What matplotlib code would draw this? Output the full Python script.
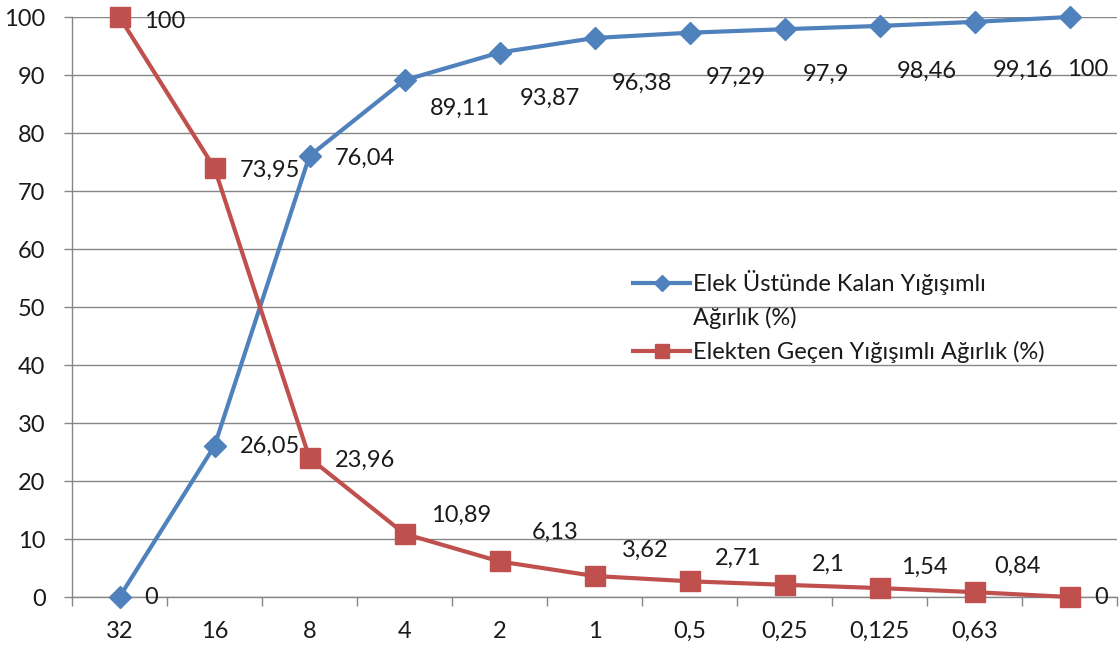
import matplotlib
matplotlib.use("Agg")
import matplotlib.pyplot as plt
from matplotlib.lines import Line2D

plt.rcParams['font.family'] = ['Lato', 'DejaVu Sans']

categories = ["32", "16", "8", "4", "2", "1", "0,5", "0,25", "0,125", "0,63", ""]
kalan = [0, 26.05, 76.04, 89.11, 93.87, 96.38, 97.29, 97.9, 98.46, 99.16, 100]
gecen = [100, 73.95, 23.96, 10.89, 6.13, 3.62, 2.71, 2.1, 1.54, 0.84, 0]
label_kalan = "Elek Üstünde Kalan Yığışımlı"
label_kalan2 = "Ağırlık (%)"
label_gecen = "Elekten Geçen Yığışımlı Ağırlık (%)"
yticks = list(range(0, 101, 10))

# label offsets in pixels (dx of left edge, dy up)
off_kalan = [(25, 0), (25, 0), (25, -2), (25, -28), (20, -46), (17, -45), (16, -45),
             (18, -45), (17, -45), (18, -48), (-2, -53)]
off_gecen = [(25, -4), (25, -2), (25, -2), (27, 18), (32, 29), (27, 26), (25, 23),
             (27, 20), (22, 21), (20, 26), (25, 0)]

BLUE = "#4F81BD"
RED = "#C0504D"
GRAY = "#868686"
FS = 17
TXT = '#1a1a1a'

fig = plt.figure(figsize=(11.2, 6.48), dpi=100)
ax = fig.add_axes([72/1120, 51/648, (1117-72)/1120, (597-17)/648])

x = list(range(len(categories)))
l1, = ax.plot(x, kalan, color=BLUE, lw=3.0, marker='D', ms=11, zorder=3, clip_on=False)
l2, = ax.plot(x, gecen, color=RED, lw=3.0, marker='s', ms=14, zorder=3, clip_on=False)

def fmt(v):
    return f"{v:g}".replace('.', ',')

for xi, v, (dx, dy) in zip(x, kalan, off_kalan):
    ax.annotate(fmt(v), (xi, v), xytext=(dx*0.72, dy*0.72), textcoords='offset points',
                ha='left', va='center', fontsize=FS, color=TXT, zorder=4)
for xi, v, (dx, dy) in zip(x, gecen, off_gecen):
    ax.annotate(fmt(v), (xi, v), xytext=(dx*0.72, dy*0.72), textcoords='offset points',
                ha='left', va='center', fontsize=FS, color=TXT, zorder=4)

ax.set_xlim(-0.5, len(categories) - 0.5)
ax.set_ylim(0, 100)
ax.set_yticks(yticks)
ax.set_yticklabels([str(t) for t in yticks])
ax.grid(axis='y', color=GRAY, lw=1)
ax.set_axisbelow(True)

ax.set_xticks([i - 0.5 for i in range(len(categories) + 1)])
ax.set_xticklabels([])
ax.set_xticks(x, minor=True)
ax.set_xticklabels(categories, minor=True)
ax.tick_params(axis='x', which='major', direction='out', length=6.5, color=GRAY, width=1)
ax.tick_params(axis='x', which='minor', length=0, pad=17, labelsize=FS, labelcolor=TXT)
ax.tick_params(axis='y', direction='out', length=6, color=GRAY, width=1, pad=13,
               labelsize=FS, labelcolor=TXT)

for s in ['top', 'right']:
    ax.spines[s].set_visible(False)
for s in ['left', 'bottom']:
    ax.spines[s].set_color(GRAY)
    ax.spines[s].set_linewidth(1)

blank = Line2D([], [], linestyle='none')
h1 = Line2D([], [], color=BLUE, lw=3.0, marker='D', ms=8)
h2 = Line2D([], [], color=RED, lw=3.0, marker='s', ms=10)
leg = fig.legend([h1, blank, h2], [label_kalan, label_kalan2, label_gecen],
                 loc='upper left', bbox_to_anchor=(633/1120, 1 - 270/648),
                 frameon=False, fontsize=FS, handlelength=57/23.6, handletextpad=0.12,
                 labelspacing=0.5, borderpad=0, borderaxespad=0)
for t in leg.get_texts():
    t.set_color(TXT)

fig.savefig("out.png", dpi=100)
